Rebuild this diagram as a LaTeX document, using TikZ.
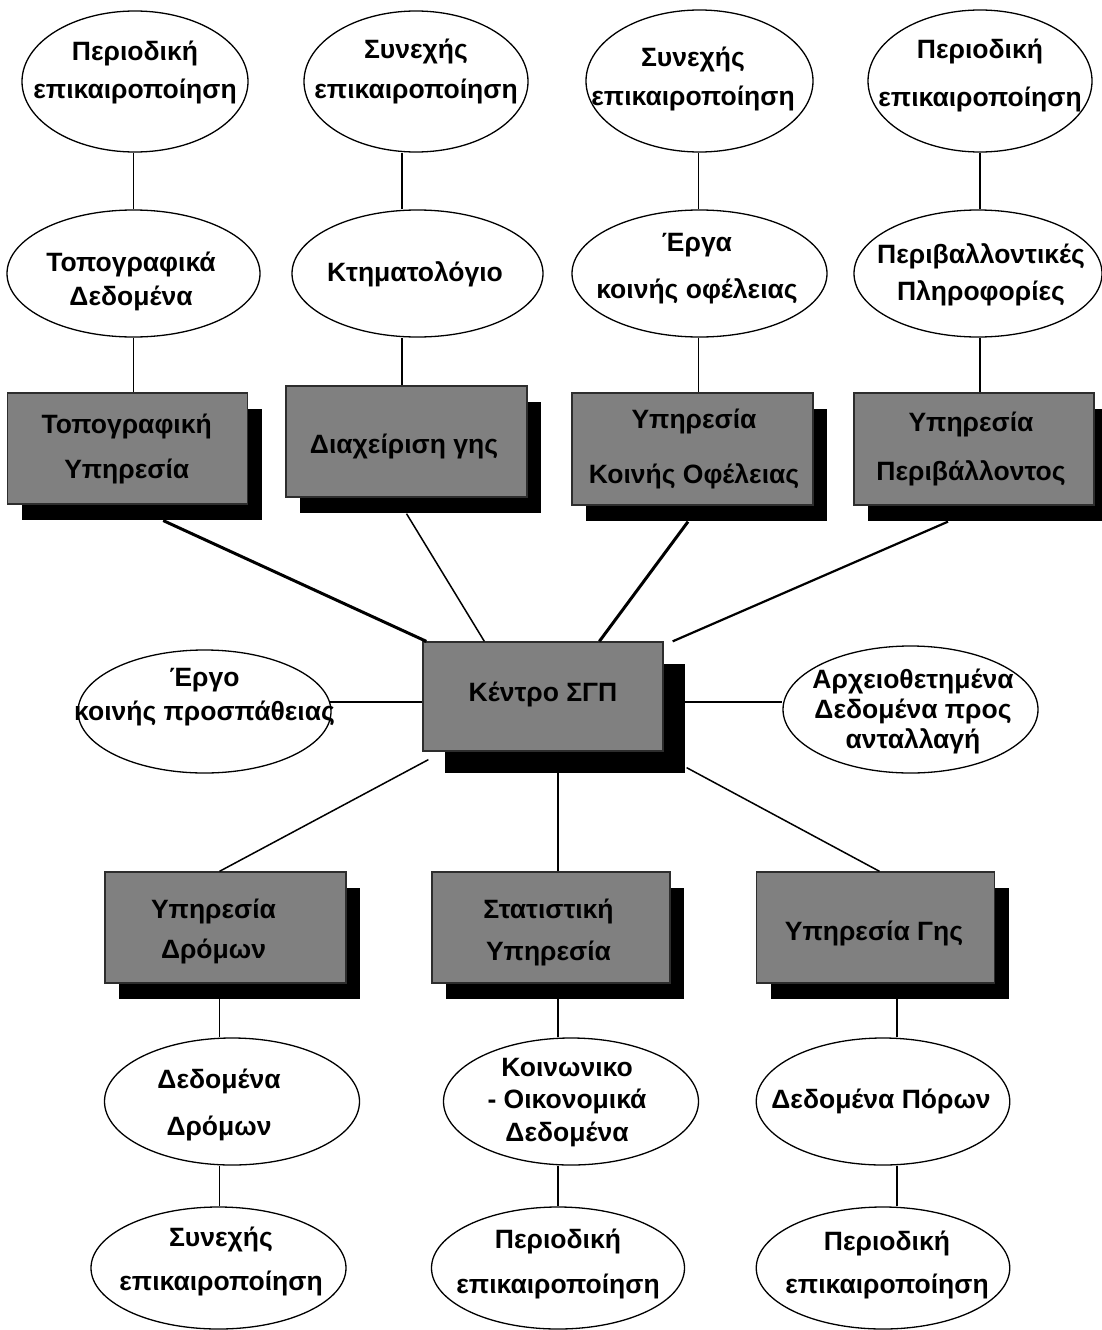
\documentclass[tikz,border=0pt]{standalone}
\usepackage{fontspec}
\setmainfont{Liberation Sans}
\usetikzlibrary{shapes.geometric,shadows,calc}
\definecolor{boxgray}{RGB}{128,128,128}
\definecolor{edgegray}{RGB}{45,45,45}
\newcommand\fsz{26.5}
\newcommand\tx[4]{\raisebox{#2}[0pt][0pt]{\makebox[0pt]{\hspace*{#1}\hspace*{#1}\fontsize{\fsz}{#3}\selectfont\begin{tabular}{@{}c@{}}#4\end{tabular}}}}
\begin{document}
\begin{tikzpicture}[x=1pt,y=-1pt,
 ell/.style={ellipse, draw=black, line width=1.3pt, fill=white, inner sep=0pt, font=\bfseries},
 boxbase/.style={rectangle, draw=edgegray, line width=1.3pt, fill=boxgray, inner sep=0pt, font=\bfseries},
 box/.style={boxbase, general shadow={fill=black, shadow xshift=14pt, shadow yshift=-16pt}},
 bigbox/.style={boxbase, general shadow={fill=black, shadow xshift=21.5pt, shadow yshift=-22pt}},
 con/.style={draw=black, line width=1.5pt},
 heavy/.style={draw=black, line width=3pt},
 medium/.style={draw=black, line width=2.2pt}]
\useasboundingbox (0,0) rectangle (1102,1330);
\fill[white] (0,0) rectangle (1102,1330);
% top row
\node[ell, minimum width=226pt, minimum height=141pt] (A1) at (135,81.5) {\tx{0pt}{3.8pt}{38pt}{Περιοδική\\επικαιροποίηση}};
\node[ell, minimum width=224pt, minimum height=141pt] (A2) at (416,81.5) {\tx{0pt}{5.2pt}{40pt}{Συνεχής\\επικαιροποίηση}};
\node[ell, minimum width=227pt, minimum height=142pt] (A3) at (699.5,81) {\tx{-6.5pt}{-3pt}{39pt}{Συνεχής\\επικαιροποίηση}};
\node[ell, minimum width=224pt, minimum height=142pt] (A4) at (980,81) {\tx{0pt}{2.3pt}{48pt}{Περιοδική\\επικαιροποίηση}};
% second row
\node[ell, minimum width=253pt, minimum height=127pt] (B1) at (133.5,273.5) {\tx{-2.5pt}{-14pt}{34pt}{Τοπογραφικά\\Δεδομένα}};
\node[ell, minimum width=251pt, minimum height=127pt] (B2) at (417.5,273.5) {\tx{-2.5pt}{-5.8pt}{40pt}{Κτηματολόγιο}};
\node[ell, minimum width=255pt, minimum height=127pt] (B3) at (699.5,273.5) {\tx{-2.5pt}{2.1pt}{47pt}{Έργα\\κοινής οφέλειας}};
\node[ell, minimum width=248pt, minimum height=127pt] (B4) at (978,273.5) {\tx{3pt}{-6.9pt}{37pt}{Περιβαλλοντικές\\Πληροφορίες}};
% top boxes
\node[box, minimum width=240pt, minimum height=111pt] (R1) at (127.7,448.4) {\tx{-1pt}{-4.4pt}{45pt}{Τοπογραφική\\Υπηρεσία}};
\node[box, minimum width=241pt, minimum height=111pt] (R2) at (406.5,441.5) {\tx{-2.5pt}{-9.8pt}{40pt}{Διαχείριση γης}};
\node[box, minimum width=241pt, minimum height=112pt] (R3) at (692.5,449) {\tx{1.5pt}{-1.8pt}{55pt}{Υπηρεσία\\Κοινής Οφέλειας}};
\node[box, minimum width=240pt, minimum height=112pt] (R4) at (974,449) {\tx{-3pt}{-3pt}{49pt}{Υπηρεσία\\Περιβάλλοντος}};
% centre
\node[bigbox, minimum width=240pt, minimum height=109pt] (K) at (543,696.5) {\tx{0pt}{-2.8pt}{40pt}{Κέντρο ΣΓΠ}};
\node[ell, minimum width=253pt, minimum height=123pt] (P) at (204.5,711.5) {\tx{0pt}{9pt}{34pt}{Έργο\\κοινής προσπάθειας}};
\node[ell, minimum width=255pt, minimum height=127pt] (Q) at (910.5,709.5) {\tx{2.5pt}{-8.8pt}{30pt}{Αρχειοθετημένα\\Δεδομένα προς\\ανταλλαγή}};
% bottom boxes
\node[box, minimum width=241pt, minimum height=111pt] (R5) at (225.5,927.5) {\tx{-12pt}{-8.8pt}{40pt}{Υπηρεσία\\Δρόμων}};
\node[box, minimum width=238pt, minimum height=111pt] (R6) at (551,927.5) {\tx{-2.5pt}{-9.4pt}{42pt}{Στατιστική\\Υπηρεσία}};
\node[box, minimum width=238pt, minimum height=111pt] (R7) at (875.5,927.5) {\tx{-1.5pt}{-10.8pt}{40pt}{Υπηρεσία Γης}};
% bottom ellipses
\node[ell, minimum width=255pt, minimum height=127pt] (C1) at (232,1101.5) {\tx{-13pt}{-6.9pt}{47pt}{Δεδομένα\\Δρόμων}};
\node[ell, minimum width=255pt, minimum height=127pt] (C2) at (571,1101.5) {\tx{-4pt}{-6.8pt}{32.5pt}{Κοινωνικο\\- Οικονομικά\\Δεδομένα}};
\node[ell, minimum width=253.5pt, minimum height=127pt] (C3) at (883,1101.5) {\tx{-2pt}{-4.8pt}{40pt}{Δεδομένα Πόρων}};
\node[ell, minimum width=255pt, minimum height=122pt] (D1) at (218.5,1268) {\tx{2.5pt}{2.5pt}{44pt}{Συνεχής\\επικαιροποίηση}};
\node[ell, minimum width=253pt, minimum height=122pt] (D2) at (558,1268) {\tx{0pt}{0.2pt}{45pt}{Περιοδική\\επικαιροποίηση}};
\node[ell, minimum width=253.5pt, minimum height=122pt] (D3) at (883,1268) {\tx{4pt}{-1.2pt}{43pt}{Περιοδική\\επικαιροποίηση}};
% column lines
\coordinate (L1) at (133.5,0);
\coordinate (L2) at (402,0);
\coordinate (L3) at (698.6,0);
\coordinate (L4) at (980,0);
\coordinate (L5) at (219.6,0);
\coordinate (L6) at (558,0);
\coordinate (L7) at (897,0);
\draw[con] (A1.south -| L1) -- (B1.north -| L1);
\draw[con] (B1.south -| L1) -- (R1.north -| L1);
\draw[con] (A2.south -| L2) -- (B2.north -| L2);
\draw[con] (B2.south -| L2) -- (R2.north -| L2);
\draw[con] (A3.south -| L3) -- (B3.north -| L3);
\draw[con] (B3.south -| L3) -- (R3.north -| L3);
\draw[con] (A4.south -| L4) -- (B4.north -| L4);
\draw[con] (B4.south -| L4) -- (R4.north -| L4);
\draw[con] (R5.south -| L5) -- (C1.north -| L5);
\draw[con] (C1.south -| L5) -- (D1.north -| L5);
\draw[con] (K.south -| L6) -- (R6.north -| L6);
\draw[con] (R6.south -| L6) -- (C2.north -| L6);
\draw[con] (C2.south -| L6) -- (D2.north -| L6);
\draw[con] (R7.south -| L7) -- (C3.north -| L7);
\draw[con] (C3.south -| L7) -- (D3.north -| L7);
% spokes to centre
\draw[heavy] ($(R1.south)+(35.5,16)$) -- ($(K.north west)+(4,0)$);
\draw[con] ($(R2.south)+(0,16)$) -- ($(K.north west)+(62,0)$);
\draw[heavy] ($(R3.south)+(-4.5,16)$) -- ($(K.north west)+(177,0)$);
\draw[medium] ($(R4.south)+(-26,16)$) -- ($(K.north east)+(9,0)$);
\draw[con] ($(K.south west)+(6,8)$) -- ($(R5.north)+(-6,0)$);
\draw[con] ($(K.south east)+(23,16)$) -- ($(R7.north)+(4,0)$);
\draw[con] ($(P.east)+(-1.5,-9.5)$) -- ($(K.west)+(0,5.5)$);
\draw[con] ($(K.east)+(21.5,5.5)$) -- ($(Q.west)+(0,-7.5)$);
\end{tikzpicture}
\end{document}
